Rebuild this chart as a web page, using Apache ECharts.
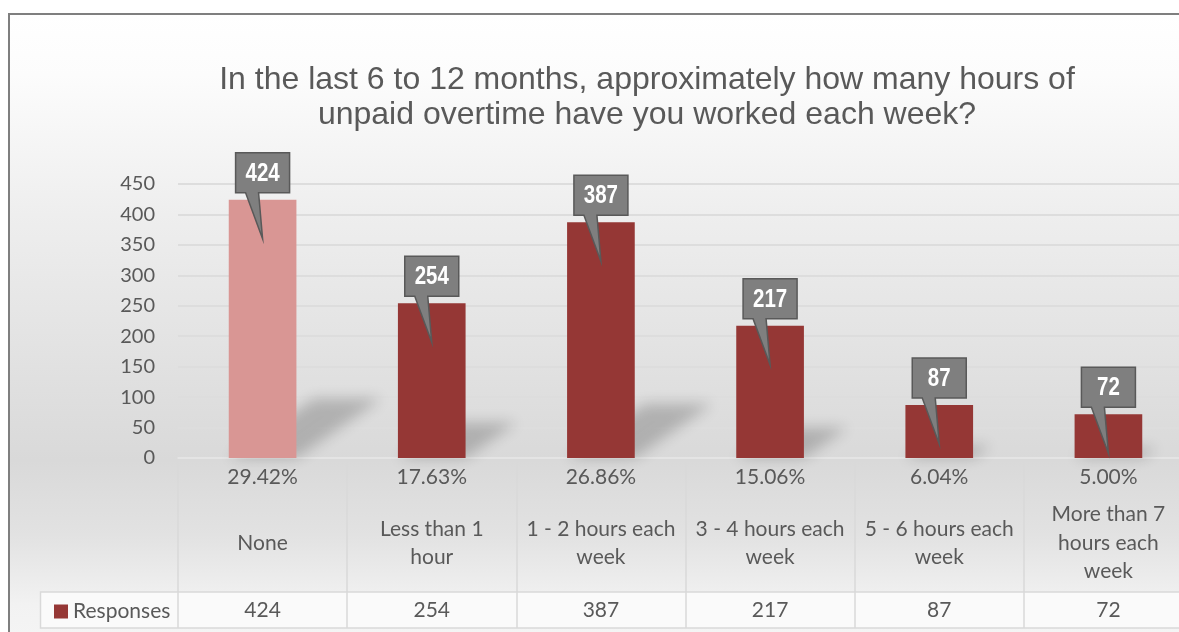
<!DOCTYPE html>
<html>
<head>
<meta charset="utf-8">
<script src="https://cdn.jsdelivr.net/npm/echarts@6/dist/echarts.min.js"></script>
<style>
html, body { margin: 0; padding: 0; background: #fff; overflow: hidden; }
#frame {
    position: absolute; left: 8px; top: 13px; width: 1200px; height: 650px;
    border-left: 2px solid #7f7f7f; border-top: 2px solid #7f7f7f;
    background: linear-gradient(to bottom, #ffffff 0px, #fcfcfc 60px, #eeeeee 200px, #d9d9d9 445px, #e2e2e2 520px, #f2f2f2 590px, #f6f6f6 650px);
}
#main { position: absolute; left: 0; top: 0; width: 1200px; height: 632px; }
</style>
</head>
<body>
<div id="frame"></div>
<div id="main"></div>
<script>
    // survey data
    var categories = ['None', 'Less than 1\nhour', '1 - 2 hours each\nweek', '3 - 4 hours each\nweek', '5 - 6 hours each\nweek', 'More than 7\nhours each\nweek'];
    var responses = [424, 254, 387, 217, 87, 72];
    var percentLabels = ['29.42%', '17.63%', '26.86%', '15.06%', '6.04%', '5.00%'];
    var yMin = 0, yMax = 450, yStep = 50;

    var textColor = '#595959';
    var labelFont = 'Lato, "Open Sans", sans-serif';
    var barColor = '#953735';
    var firstBarColor = '#D99694';

    var points = responses.map(function (v, i) { return [i, v]; });

    // blurred perspective shadow behind each column
    function renderShadow(params, api) {
        var i = api.value(0);
        var base = api.coord([i, 0]);
        var top = api.coord([i, api.value(1)]);
        var bw = api.size([1, 0])[0] * 0.4;
        var h = base[1] - top[1];
        var sh = h * 0.23, dx = h * 0.33;
        var off = 3000;
        var xl = base[0] - bw / 2, xr = base[0] + bw / 2, y = base[1];
        return {
            type: 'polygon',
            shape: { points: [[xl - off, y], [xr - off, y], [xr + dx - off, y - sh], [xl + dx - off, y - sh]] },
            style: { fill: '#000', shadowColor: 'rgba(0,0,0,0.2)', shadowBlur: 14, shadowOffsetX: off }
        };
    }

    // grey callout box with a pointer into the column
    function renderCallout(params, api) {
        var i = api.value(0);
        var v = api.value(1);
        var top = api.coord([i, v]);
        var cx = top[0];
        var w = 54, hgt = 40;
        var yb = top[1] - 7, yt = yb - hgt;
        var x0 = cx - w / 2, x1 = cx + w / 2;
        return {
            type: 'group',
            children: [{
                type: 'polygon',
                shape: { points: [[x0, yt], [x1, yt], [x1, yb], [cx - 4, yb], [cx, top[1] + 39], [cx - 17, yb], [x0, yb]] },
                style: { fill: '#7f7f7f', stroke: '#595959', lineWidth: 1.5 }
            }, {
                type: 'text',
                x: cx, y: yt + hgt / 2 + 1,
                scaleX: 0.82,
                style: {
                    text: String(v), fill: '#fff', align: 'center', verticalAlign: 'middle',
                    font: 'bold 25px "Liberation Sans", Arial, sans-serif'
                }
            }]
        };
    }

    var option = {
        backgroundColor: 'transparent',
        animation: false,
        title: {
            text: 'In the last 6 to 12 months, approximately how many hours of\nunpaid overtime have you worked each week?',
            left: 647,
            top: 63,
            padding: 0,
            textAlign: 'center',
            textStyle: {
                fontFamily: '"Liberation Sans", Arial, sans-serif',
                fontSize: 32,
                fontWeight: 'normal',
                color: textColor,
                lineHeight: 35
            }
        },
        legend: {
            data: [{ name: 'Responses', itemStyle: { color: barColor } }],
            left: 49,
            top: 596,
            itemWidth: 14,
            itemHeight: 14,
            icon: 'rect',
            textStyle: { fontFamily: labelFont, fontSize: 21, color: textColor, lineHeight: 21 }
        },
        graphic: [{
            type: 'rect',
            z: -10,
            shape: { x: 40.5, y: 592, width: 1200, height: 36 },
            style: { fill: '#fafafa', stroke: '#d9d9d9', lineWidth: 1.5 }
        }],
        grid: { left: 178, top: 184, width: 1015, height: 274 },
        xAxis: [{
            type: 'category',
            data: categories,
            position: 'bottom',
            axisLine: { lineStyle: { color: '#e6e6e6', width: 1.5 } },
            axisTick: { show: false },
            axisLabel: {
                interval: 0, margin: 19, verticalAlign: 'middle',
                fontFamily: labelFont, fontSize: 21, color: textColor,
                formatter: function (val, idx) { return percentLabels[idx]; }
            }
        }, {
            type: 'category',
            data: categories,
            position: 'bottom',
            axisLine: { show: false },
            axisTick: { show: false },
            axisLabel: {
                interval: 0, margin: 85, verticalAlign: 'middle', lineHeight: 28.5,
                fontFamily: labelFont, fontSize: 21, color: textColor
            }
        }, {
            type: 'category',
            data: categories,
            position: 'bottom',
            axisLine: { show: false },
            axisTick: { show: false },
            axisLabel: {
                interval: 0, margin: 152, verticalAlign: 'middle',
                fontFamily: labelFont, fontSize: 21, color: textColor,
                formatter: function (val, idx) { return String(responses[idx]); }
            }
        }, {
            type: 'category',
            data: categories,
            position: 'bottom',
            offset: 170,
            axisLine: { show: false },
            axisTick: { show: true, inside: true, length: 166, lineStyle: { color: '#d9d9d9', width: 1.5 } },
            axisLabel: { show: false }
        }],
        yAxis: {
            type: 'value',
            min: yMin,
            max: yMax,
            interval: yStep,
            axisLine: { show: false },
            axisTick: { show: false },
            axisLabel: { margin: 23, fontFamily: labelFont, fontSize: 20, color: textColor },
            splitLine: { lineStyle: { color: '#dddddd', width: 2 } }
        },
        series: [{
            name: 'shadow',
            type: 'custom',
            z: 1,
            silent: true,
            clip: false,
            renderItem: renderShadow,
            encode: { x: 0, y: 1 },
            data: points
        }, {
            name: 'Responses',
            type: 'bar',
            barWidth: '40%',
            z: 2,
            itemStyle: {
                color: function (p) { return p.dataIndex === 0 ? firstBarColor : barColor; }
            },
            data: responses
        }, {
            name: 'labels',
            type: 'custom',
            z: 5,
            silent: true,
            clip: false,
            renderItem: renderCallout,
            encode: { x: 0, y: 1 },
            data: points
        }]
    };

    var myChart = echarts.init(document.getElementById('main'));
    myChart.setOption(option);
</script>
</body>
</html>
